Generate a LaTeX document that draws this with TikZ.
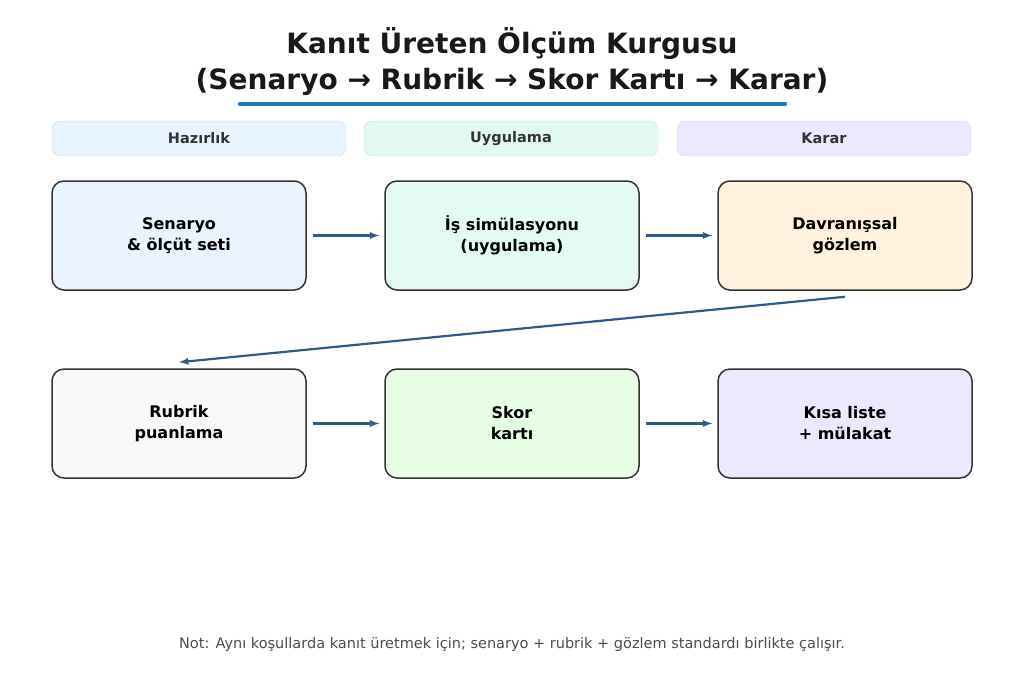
\documentclass[tikz,border=0pt]{standalone}
\usepackage{fontspec}
\setmainfont{DejaVu Sans}
\usetikzlibrary{positioning}
\definecolor{arrowblue}{HTML}{2E5A87}
\definecolor{lineblue}{HTML}{1F77C4}
\definecolor{prepfill}{HTML}{E8F4FF}
\definecolor{applyfill}{HTML}{E2FAF1}
\definecolor{decidefill}{HTML}{EDE7FF}
\definecolor{scenfill}{HTML}{EAF4FF}
\definecolor{simfill}{HTML}{E3FBF1}
\definecolor{obsfill}{HTML}{FFF3DF}
\definecolor{rubfill}{HTML}{F8F8F8}
\definecolor{cardfill}{HTML}{E8FDE6}
\definecolor{listfill}{HTML}{EEE8FF}
\begin{document}
\begin{tikzpicture}[
                x = 1pt, y = -1pt,
                stage/.style = {
                    draw = black!80,
                    line width = 1.5pt,
                    rounded corners = 12pt,
                    minimum width = 254pt,
                    minimum height = 109pt,
                    align = center,
                    font = \fontsize{16}{21}\selectfont\bfseries
                },
                phase/.style = {
                    draw = black!15,
                    rounded corners = 8pt,
                    minimum width = 294pt,
                    minimum height = 35pt,
                    font = \fontsize{14.5}{17}\selectfont\bfseries,
                    text = black!80
                },
                flow/.style = {
                    -latex,
                    line width = 2.2pt,
                    arrowblue
                }
            ]
            \useasboundingbox (0,0) rectangle (1024,683);
            
            % title
            \node[align=center, font=\fontsize{28}{36}\selectfont\bfseries, text=black!90] (title) at (512,62)
                {Kanıt Üreten Ölçüm Kurgusu\\(Senaryo → Rubrik → Skor Kartı → Karar)};
            \draw[line width = 4.5pt, lineblue, line cap=round] (240,104) -- (785,104);
            
            % phases
            \node[phase, fill=prepfill] (p1) at (199,138.5) {Hazırlık};
            \node[phase, fill=applyfill] (p2) at (511,138.5) {Uygulama};
            \node[phase, fill=decidefill] (p3) at (824,138.5) {Karar};
            
            % stages
            \node[stage, fill=scenfill] (s1) at (179,235.5) {Senaryo\\\& ölçüt seti};
            \node[stage, fill=simfill] (s2) at (512,235.5) {İş simülasyonu\\(uygulama)};
            \node[stage, fill=obsfill] (s3) at (845,235.5) {Davranışsal\\gözlem};
            \node[stage, fill=rubfill] (s4) at (179,423.5) {Rubrik\\puanlama};
            \node[stage, fill=cardfill] (s5) at (512,423.5) {Skor\\kartı};
            \node[stage, fill=listfill] (s6) at (845,423.5) {Kısa liste\\+ mülakat};
            
            \draw[flow] ([xshift=6pt]s1.east) -- ([xshift=-5pt]s2.west);
            \draw[flow] ([xshift=6pt]s2.east) -- ([xshift=-5pt]s3.west);
            \draw[flow] ([yshift=-6pt]s3.south) -- ([yshift=6pt]s4.north);
            \draw[flow] ([xshift=6pt]s4.east) -- ([xshift=-5pt]s5.west);
            \draw[flow] ([xshift=6pt]s5.east) -- ([xshift=-5pt]s6.west);
            
            % note
            \node[font=\fontsize{14.5}{17}\selectfont, text=black!70] (note) at (512,644)
                {Not: Aynı koşullarda kanıt üretmek için; senaryo + rubrik + gözlem standardı birlikte çalışır.};
\end{tikzpicture}
\end{document}
